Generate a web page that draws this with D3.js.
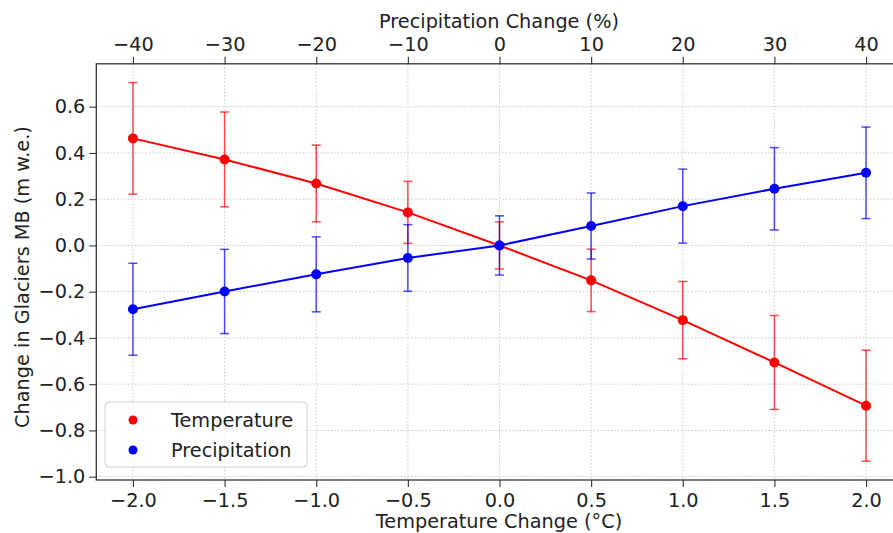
<!DOCTYPE html>
<html><head><meta charset="utf-8">
<script src="https://cdn.jsdelivr.net/npm/d3@7"></script>
<style>
body{margin:0;background:#fff;}
text{font-family:"DejaVu Sans",sans-serif;fill:#222;}
</style></head>
<body><svg id="c" width="893" height="533"></svg>
<script>
const tempChange = [-2.0, -1.5, -1.0, -0.5, 0.0, 0.5, 1.0, 1.5, 2.0];
const tempMB     = [0.463, 0.372, 0.268, 0.143, 0.0, -0.151, -0.323, -0.506, -0.693];
const tempErr    = [0.241, 0.205, 0.166, 0.134, 0.102, 0.135, 0.167, 0.203, 0.240];
const precChange = [-40, -30, -20, -10, 0, 10, 20, 30, 40];
const precMB     = [-0.276, -0.199, -0.125, -0.054, 0.0, 0.084, 0.170, 0.245, 0.314];
const precErr    = [0.199, 0.182, 0.162, 0.144, 0.128, 0.143, 0.160, 0.178, 0.198];
const yTicks = [-1.0, -0.8, -0.6, -0.4, -0.2, 0.0, 0.2, 0.4, 0.6];
const xTicks = [-2.0, -1.5, -1.0, -0.5, 0.0, 0.5, 1.0, 1.5, 2.0];
const xTopTicks = [-40, -30, -20, -10, 0, 10, 20, 30, 40];
const labels = {x: "Temperature Change (°C)", xTop: "Precipitation Change (%)", y: "Change in Glaciers MB (m w.e.)"};
const seriesNames = ["Temperature", "Precipitation"];

const svg = d3.select("#c");
const L = 96.3, R = 902.7, T = 63.8, B = 480;
const x = d3.scaleLinear().domain([-2.2, 2.2]).range([L, R]);
const xt = d3.scaleLinear().domain([-44, 44]).range([L, R]);
const y = d3.scaleLinear().domain([-1.0143, 0.7855]).range([B, T]);
const FS = 19.3;

// grid
const g = svg.append("g");
xTicks.forEach(v => g.append("line").attr("x1", x(v)).attr("x2", x(v)).attr("y1", T).attr("y2", B)
  .attr("stroke", "#c8c8c8").attr("stroke-width", 1).attr("stroke-dasharray", "1.5,2"));
yTicks.forEach(v => g.append("line").attr("x1", L).attr("x2", R).attr("y1", y(v)).attr("y2", y(v))
  .attr("stroke", "#c8c8c8").attr("stroke-width", 1).attr("stroke-dasharray", "1.5,2"));

function drawSeries(xs, xScale, vals, errs, color) {
  const s = svg.append("g");
  xs.forEach((xv, i) => {
    const cx = xScale(xv), y1 = y(vals[i] + errs[i]), y2 = y(vals[i] - errs[i]);
    s.append("line").attr("x1", cx).attr("x2", cx).attr("y1", y1).attr("y2", y2)
      .attr("stroke", color).attr("stroke-opacity", 0.7).attr("stroke-width", 1.5);
    [y1, y2].forEach(yy => s.append("line").attr("x1", cx - 4.5).attr("x2", cx + 4.5).attr("y1", yy).attr("y2", yy)
      .attr("stroke", color).attr("stroke-opacity", 0.7).attr("stroke-width", 1.5));
  });
  const line = d3.line().x((d, i) => xScale(xs[i])).y(d => y(d));
  s.append("path").attr("d", line(vals)).attr("fill", "none").attr("stroke", color).attr("stroke-width", 2);
  s.selectAll("circle").data(vals).enter().append("circle")
    .attr("cx", (d, i) => xScale(xs[i])).attr("cy", d => y(d)).attr("r", 5).attr("fill", color);
}
drawSeries(tempChange, x, tempMB, tempErr, "#ff0000");
drawSeries(precChange, xt, precMB, precErr, "#0000ff");

// axes
const fmt1 = d3.format(".1f"), fmt0 = d3.format("d");
const ax = svg.append("g").attr("transform", `translate(0,${B})`)
  .call(d3.axisBottom(x).tickValues(xTicks).tickFormat(fmt1).tickSize(7).tickPadding(6).tickSizeOuter(0));
const axT = svg.append("g").attr("transform", `translate(0,${T})`)
  .call(d3.axisTop(xt).tickValues(xTopTicks).tickFormat(fmt0).tickSize(7).tickPadding(6).tickSizeOuter(0));
const ay = svg.append("g").attr("transform", `translate(${L},0)`)
  .call(d3.axisLeft(y).tickValues(yTicks).tickFormat(fmt1).tickSize(7).tickPadding(4).tickSizeOuter(0));
[ax, axT, ay].forEach(a => {
  a.select(".domain").remove();
  a.selectAll(".tick line").attr("stroke", "#333").attr("stroke-width", 1.1);
  a.selectAll(".tick text").attr("font-size", FS).attr("font-family", "DejaVu Sans").attr("fill", "#222");
});
// spines
svg.append("rect").attr("x", L).attr("y", T).attr("width", R - L).attr("height", B - T)
  .attr("fill", "none").attr("stroke", "#333").attr("stroke-width", 1.3);

// labels
svg.append("text").attr("x", 499).attr("y", 528).attr("text-anchor", "middle")
  .attr("font-size", FS).text(labels.x);
svg.append("text").attr("x", 499).attr("y", 28).attr("text-anchor", "middle")
  .attr("font-size", FS).text(labels.xTop);
svg.append("text").attr("transform", `translate(29,277) rotate(-90)`).attr("text-anchor", "middle")
  .attr("font-size", FS).text(labels.y);

// legend
const lg = svg.append("g");
lg.append("rect").attr("x", 105).attr("y", 402).attr("width", 202).attr("height", 65).attr("rx", 4)
  .attr("fill", "#fff").attr("fill-opacity", 0.8).attr("stroke", "#d0d0d0").attr("stroke-width", 1);
[["#ff0000", 420], ["#0000ff", 450]].forEach((d, i) => {
  lg.append("circle").attr("cx", 133).attr("cy", d[1]).attr("r", 4.5).attr("fill", d[0]);
  lg.append("text").attr("x", 171).attr("y", d[1]).attr("dy", "0.36em").attr("font-size", FS).text(seriesNames[i]);
});
</script></body></html>
